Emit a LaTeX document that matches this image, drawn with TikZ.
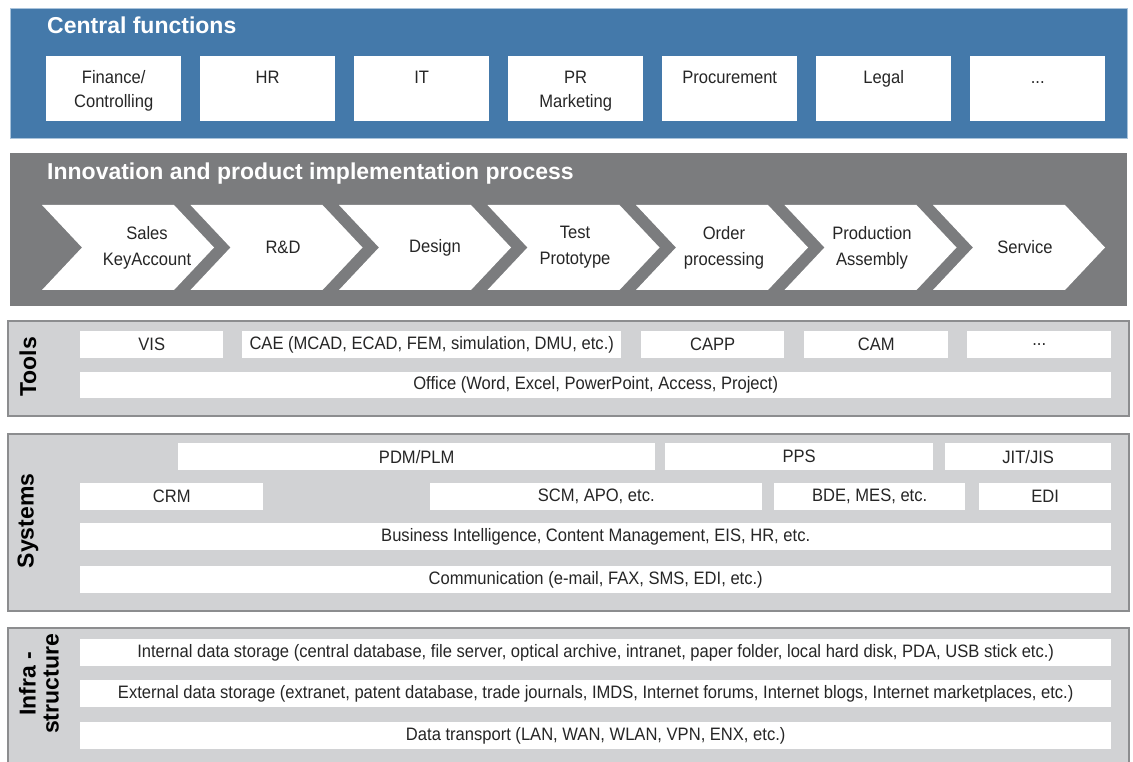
\documentclass[tikz,border=0pt]{standalone}
\usepackage{fontspec}
\setmainfont{Liberation Sans}
\newfontfamily\boxfont{Liberation Sans}[FakeStretch=0.92]
\definecolor{cfblue}{HTML}{4479AA}
\definecolor{cfblueedge}{HTML}{A9C3DB}
\definecolor{procgray}{HTML}{7B7C7E}
\definecolor{panelfill}{HTML}{D1D2D4}
\definecolor{paneledge}{HTML}{8C8D8F}
\definecolor{txt}{HTML}{262626}
\newcommand\cftext[1]{\parbox[t][65pt][t]{135pt}{\centering\rule{0pt}{27.5pt}#1}}
\tikzset{
  panelbg/.style={rectangle, anchor=north west, inner sep=0pt},
  panel/.style={panelbg, fill=panelfill, draw=paneledge, line width=2pt},
  titletext/.style={anchor=base west, inner sep=0pt, text=white, font=\bfseries\fontsize{23}{27}\selectfont},
  sidelabel/.style={inner sep=0pt, rotate=90, align=center, text=black, font=\bfseries\fontsize{23}{23}\selectfont},
  cfbox/.style={rectangle, anchor=north west, inner sep=0pt, fill=white, text=txt, font=\boxfont\fontsize{18}{24}\selectfont},
  chevtext/.style={inner sep=0pt, align=center, text=txt, font=\boxfont\fontsize{18}{26}\selectfont},
  rowbox/.style={rectangle, anchor=north west, inner sep=0pt, fill=white, text=txt, minimum height=27pt, font=\boxfont\fontsize{18}{22}\selectfont},
}
\newcommand\chev[4]{%
  \pgfmathsetmacro\chL{42+148.5*#1}%
  \fill[white] (\chL,205) -- ++(132,0) -- ++(40,42.5) -- ++(-40,42.5) -- ++(-132,0) -- ++(40,-42.5) -- cycle;
  \node[chevtext] (#3) at (#2,247.5) {#4};%
}
\begin{document}
\begin{tikzpicture}[x=1pt,y=-1pt]
\useasboundingbox (0,0) rectangle (1133,762);
\fill[white] (0,0) rectangle (1133,762);

% ---------------- Central functions ----------------
\node[panelbg, fill=cfblue, draw=cfblueedge, line width=1pt, minimum width=1117pt, minimum height=130pt] (central) at (10,8) {};
\node[titletext] (cftitle) at (47,34) {Central functions};
\node[cfbox] (fin)  at (46,56)  {\cftext{Finance/\\Controlling}};
\node[cfbox] (hr)   at (200,56) {\cftext{HR}};
\node[cfbox] (it)   at (354,56) {\cftext{IT}};
\node[cfbox] (pr)   at (508,56) {\cftext{PR\\Marketing}};
\node[cfbox] (proc) at (662,56) {\cftext{Procurement}};
\node[cfbox] (legal) at (816,56) {\cftext{Legal}};
\node[cfbox] (cfmore) at (970,56) {\cftext{...}};

% ---------------- Process ----------------
\node[panelbg, fill=procgray, minimum width=1117pt, minimum height=153pt] (process) at (10,153) {};
\node[titletext] (proctitle) at (47,180) {Innovation and product implementation process};
\chev{0}{147}{sales}{Sales\\KeyAccount}
\chev{1}{283}{rd}{R\&D}
\chev{2}{435}{design}{Design}
\chev{3}{575}{test}{Test\\Prototype}
\chev{4}{724}{order}{Order\\processing}
\chev{5}{872}{prod}{Production\\Assembly}
\chev{6}{1025}{service}{Service}

% ---------------- Tools ----------------
\node[panel, minimum width=1121pt, minimum height=95pt] (tools) at (7,320) {};
\node[sidelabel] (toolslbl) at (28,367) {Tools};
\node[rowbox, minimum width=143pt] (vis)  at (80,331)  {VIS};
\node[rowbox, minimum width=379pt] (cae)  at (242,331) {CAE (MCAD, ECAD, FEM, simulation, DMU, etc.)};
\node[rowbox, minimum width=143pt] (capp) at (641,331) {CAPP};
\node[rowbox, minimum width=144pt] (cam)  at (804,331) {CAM};
\node[rowbox, minimum width=144pt] (toolmore) at (967,331) {...};
\node[rowbox, minimum width=1031pt, minimum height=26pt] (office) at (80,372) {Office (Word, Excel, PowerPoint, Access, Project)};

% ---------------- Systems ----------------
\node[panel, minimum width=1121pt, minimum height=177pt] (systems) at (7,433) {};
\node[sidelabel] (syslbl) at (28,521) {Systems};
\node[rowbox, minimum width=477pt] (pdm) at (178,443) {PDM/PLM};
\node[rowbox, minimum width=268pt] (pps) at (665,443) {PPS};
\node[rowbox, minimum width=166pt] (jit) at (945,443) {JIT/JIS};
\node[rowbox, minimum width=183pt] (crm) at (80,483) {CRM};
\node[rowbox, minimum width=332pt] (scm) at (430,483) {SCM, APO, etc.};
\node[rowbox, minimum width=191pt] (bde) at (774,483) {BDE, MES, etc.};
\node[rowbox, minimum width=132pt] (edi) at (979,483) {EDI};
\node[rowbox, minimum width=1031pt] (bi) at (80,523) {Business Intelligence, Content Management, EIS, HR, etc.};
\node[rowbox, minimum width=1031pt] (comm) at (80,566) {Communication (e-mail, FAX, SMS, EDI, etc.)};

% ---------------- Infrastructure ----------------
\node[panel, minimum width=1121pt, minimum height=150pt] (infra) at (7,627) {};
\node[sidelabel] (infralbl) at (39,684) {Infra -\\structure};
\node[rowbox, minimum width=1031pt] (intstore) at (80,639) {Internal data storage (central database, file server, optical archive, intranet, paper folder, local hard disk, PDA, USB stick etc.)};
\node[rowbox, minimum width=1031pt] (extstore) at (80,680) {External data storage (extranet, patent database, trade journals, IMDS, Internet forums, Internet blogs, Internet marketplaces, etc.)};
\node[rowbox, minimum width=1031pt] (transport) at (80,722) {Data transport (LAN, WAN, WLAN, VPN, ENX, etc.)};
\end{tikzpicture}
\end{document}
